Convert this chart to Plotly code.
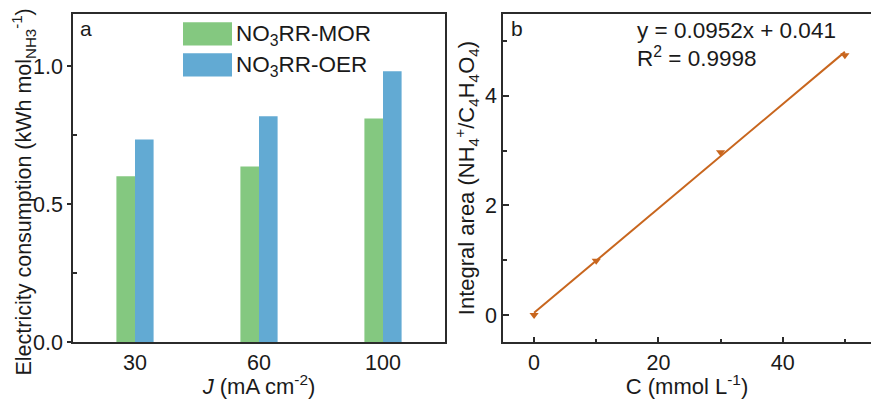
import plotly.graph_objects as go
from plotly.subplots import make_subplots

# Panel a: electricity consumption per current density
current_density = ["30", "60", "100"]
series_names = ["NO<sub>3</sub>RR-MOR", "NO<sub>3</sub>RR-OER"]
mor_values = [0.601, 0.637, 0.810]
oer_values = [0.734, 0.818, 0.981]
bar_colors = ["#84C880", "#62AAD3"]

# Panel b: calibration curve
conc = [0, 10, 30, 50]
integral_area = [0.0, 0.99, 2.97, 4.74]
fit_slope = 0.0952
fit_intercept = 0.041
r_squared = 0.9998
line_color = "#C8661E"

FONT = "Liberation Sans, Arial, sans-serif"
AXIS_COLOR = "#2b2b2b"
TEXT_COLOR = "#1a1a1a"


def font(size):
    return dict(family=FONT, size=size, color=TEXT_COLOR)


W, H = 871, 399
fig = make_subplots(rows=1, cols=2)

for name, vals, col in zip(series_names, [mor_values, oer_values], bar_colors):
    fig.add_trace(go.Bar(x=current_density, y=vals, name=name, marker_color=col,
                         marker_line_width=0, showlegend=False), row=1, col=1)

fit_x = [conc[0], conc[-1]]
fit_y = [fit_slope * v + fit_intercept for v in fit_x]
fig.add_trace(go.Scatter(x=fit_x, y=fit_y, mode="lines",
                         line=dict(color=line_color, width=2), showlegend=False),
              row=1, col=2)
fig.add_trace(go.Scatter(x=conc, y=integral_area, mode="markers",
                         marker=dict(symbol="triangle-down", size=8, color=line_color),
                         showlegend=False), row=1, col=2)


def px_x(p):
    return p / W


def px_y(p):
    return 1 - p / H


# Axis titles inherit from the base font (drawn at 1.2x its size)
fig.update_layout(
    width=W, height=H, margin=dict(l=0, r=0, t=0, b=0),
    paper_bgcolor="white", plot_bgcolor="white",
    barmode="group", bargap=0.7, bargroupgap=0,
    font=font(18),
)

axis_common = dict(showline=True, linecolor=AXIS_COLOR, linewidth=1.5,
                   showgrid=False, zeroline=False, tickfont=font(21.5))

fig.update_xaxes(domain=[px_x(73), px_x(445)], range=[-0.5, 2.5], mirror=True,
                 ticks="", title_text="<i>J</i> (mA cm<sup>-2</sup>)",
                 title_standoff=0,
                 **axis_common, row=1, col=1)
fig.update_yaxes(domain=[px_y(354), px_y(14)], range=[0, 1.19], mirror=True,
                 tickvals=[0, 0.5, 1.0], ticktext=["0.0", "0.5", "1.0"],
                 ticks="outside", ticklen=4, tickwidth=1.5, tickcolor=AXIS_COLOR,
                 minor=dict(tickvals=[0.25, 0.75], ticks="inside", ticklen=4,
                            tickwidth=1.5, tickcolor=AXIS_COLOR),
                 **axis_common, row=1, col=1)

fig.update_xaxes(domain=[px_x(503), 1.0], range=[-5, 54.2], mirror=True,
                 tickvals=[0, 20, 40], ticks="inside", ticklen=6, tickwidth=1.5,
                 tickcolor=AXIS_COLOR,
                 minor=dict(tickvals=[10, 30, 50], ticks="inside", ticklen=4,
                            tickwidth=1.5, tickcolor=AXIS_COLOR),
                 title_text="C (mmol L<sup>-1</sup>)", title_standoff=0,
                 **axis_common, row=1, col=2)
fig.update_yaxes(domain=[px_y(354), px_y(14)], range=[-0.5, 5.5], mirror=False,
                 tickvals=[0, 2, 4], ticks="inside", ticklen=6, tickwidth=1.5,
                 tickcolor=AXIS_COLOR,
                 minor=dict(tickvals=[1, 3, 5], ticks="inside", ticklen=4,
                            tickwidth=1.5, tickcolor=AXIS_COLOR),
                 title_text="Integral area (NH<sub>4</sub><sup>+</sup>/C<sub>4</sub>H<sub>4</sub>O<sub>4</sub>)",
                 title_standoff=4,
                 **axis_common, row=1, col=2)

# Vertical title for panel a, placed as a rotated label
fig.add_annotation(xref="paper", yref="paper", x=px_x(24), y=px_y(199),
                   text="Electricity consumption (kWh mol<sub>NH3</sub><sup>-1</sup>)",
                   textangle=-90, showarrow=False, xanchor="center", yanchor="middle",
                   font=font(21.5))

# Legend for panel a: wide swatches with labels
swatch_top = [23, 55]
for name, col, top in zip(series_names, bar_colors, swatch_top):
    fig.add_shape(type="rect", xref="paper", yref="paper",
                  x0=px_x(183), x1=px_x(232), y0=px_y(top + 24), y1=px_y(top),
                  fillcolor=col, line_width=0)
    fig.add_annotation(xref="paper", yref="paper", x=px_x(234), y=px_y(top + 13),
                       text=name, showarrow=False, xanchor="left", yanchor="middle",
                       font=font(22.5))

# Panel letters
fig.add_annotation(xref="paper", yref="paper", x=px_x(78), y=px_y(15), text="a",
                   showarrow=False, xanchor="left", yanchor="top", font=font(21))
fig.add_annotation(xref="paper", yref="paper", x=px_x(509), y=px_y(15), text="b",
                   showarrow=False, xanchor="left", yanchor="top", font=font(21))

# Fit equation
fig.add_annotation(xref="paper", yref="paper", x=px_x(635), y=px_y(32),
                   text=f"y = {fit_slope}x + {fit_intercept}",
                   showarrow=False, xanchor="left", yanchor="middle", font=font(22.5))
fig.add_annotation(xref="paper", yref="paper", x=px_x(635), y=px_y(59),
                   text=f"R<sup>2</sup> = {r_squared}",
                   showarrow=False, xanchor="left", yanchor="middle", font=font(22.5))

fig.write_html("out.html")
